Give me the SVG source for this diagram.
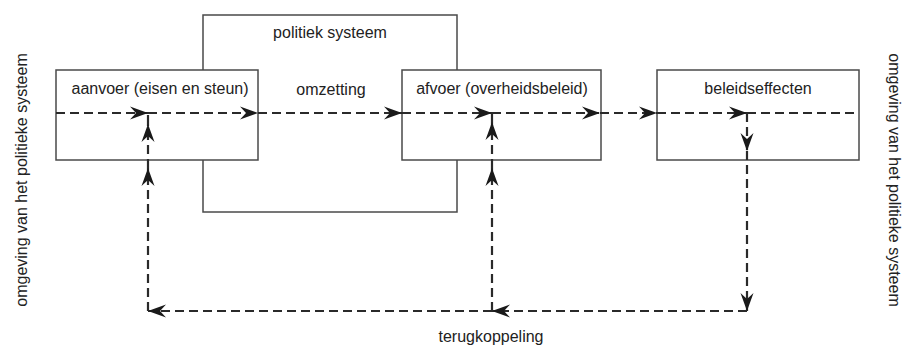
<svg xmlns="http://www.w3.org/2000/svg" width="904" height="349" viewBox="0 0 904 349">
<style>
.box{fill:#fff;stroke:#4a4a4a;stroke-width:1.5}
.lbl{font-family:"Liberation Sans",Arial,sans-serif;font-size:16px;fill:#222;text-anchor:middle}
.c{stroke:#2a2a2a;stroke-width:2.2;stroke-dasharray:9,5;fill:none}
</style>
<defs>
<marker id="ah" viewBox="-19 -8 20 16" refX="0" refY="0" markerWidth="20" markerHeight="16" markerUnits="userSpaceOnUse" orient="auto">
<path d="M0,0 L-18,-6.5 L-12,0 L-18,6.5 Z" fill="#1a1a1a"/>
</marker>
</defs>
<g id="politiek-systeem">
<rect class="box" x="203" y="15" width="254" height="197"/>
<text class="lbl" x="330" y="38">politiek systeem</text>
<text class="lbl" x="331" y="95">omzetting</text>
</g>
<g id="aanvoer">
<rect class="box" x="56" y="70" width="202" height="90"/>
<text class="lbl" x="160" y="94">aanvoer (eisen en steun)</text>
</g>
<g id="afvoer">
<rect class="box" x="402" y="70" width="199" height="90"/>
<text class="lbl" x="502" y="94">afvoer (overheidsbeleid)</text>
</g>
<g id="beleidseffecten">
<rect class="box" x="657" y="70" width="202" height="90"/>
<text class="lbl" x="758" y="94">beleidseffecten</text>
</g>
<g id="omgeving-links">
<text class="lbl" transform="translate(27,180) rotate(-90)">omgeving van het politieke systeem</text>
</g>
<g id="omgeving-rechts">
<text class="lbl" transform="translate(889,180) rotate(90)">omgeving van het politieke systeem</text>
</g>
<g id="terugkoppeling">
<text class="lbl" x="491" y="342">terugkoppeling</text>
</g>
<g id="connectors">
<line class="c" x1="56" y1="113" x2="148" y2="113" marker-end="url(#ah)"/>
<line class="c" x1="148" y1="113" x2="258" y2="113" marker-end="url(#ah)"/>
<line class="c" x1="258" y1="113" x2="402" y2="113" marker-end="url(#ah)"/>
<line class="c" x1="402" y1="113" x2="492" y2="113" marker-end="url(#ah)"/>
<line class="c" x1="492" y1="113" x2="600" y2="113" marker-end="url(#ah)"/>
<line class="c" x1="600" y1="113" x2="657" y2="113" marker-end="url(#ah)"/>
<line class="c" x1="657" y1="113" x2="747" y2="113" marker-end="url(#ah)"/>
<line class="c" x1="747" y1="113" x2="859" y2="113"/>
<line class="c" x1="747" y1="113" x2="747" y2="151" marker-end="url(#ah)"/>
<line class="c" x1="747" y1="151" x2="747" y2="311" marker-end="url(#ah)"/>
<line class="c" x1="747" y1="311" x2="492" y2="311" marker-end="url(#ah)"/>
<line class="c" x1="492" y1="311" x2="148" y2="311" marker-end="url(#ah)"/>
<line class="c" x1="492" y1="311" x2="492" y2="168" marker-end="url(#ah)"/>
<line class="c" x1="492" y1="168" x2="492" y2="122" marker-end="url(#ah)"/>
<line class="c" x1="492" y1="122" x2="492" y2="113"/>
<line class="c" x1="148" y1="311" x2="148" y2="168" marker-end="url(#ah)"/>
<line class="c" x1="148" y1="168" x2="148" y2="124" marker-end="url(#ah)"/>
<line class="c" x1="148" y1="124" x2="148" y2="113"/>
</g>
</svg>
